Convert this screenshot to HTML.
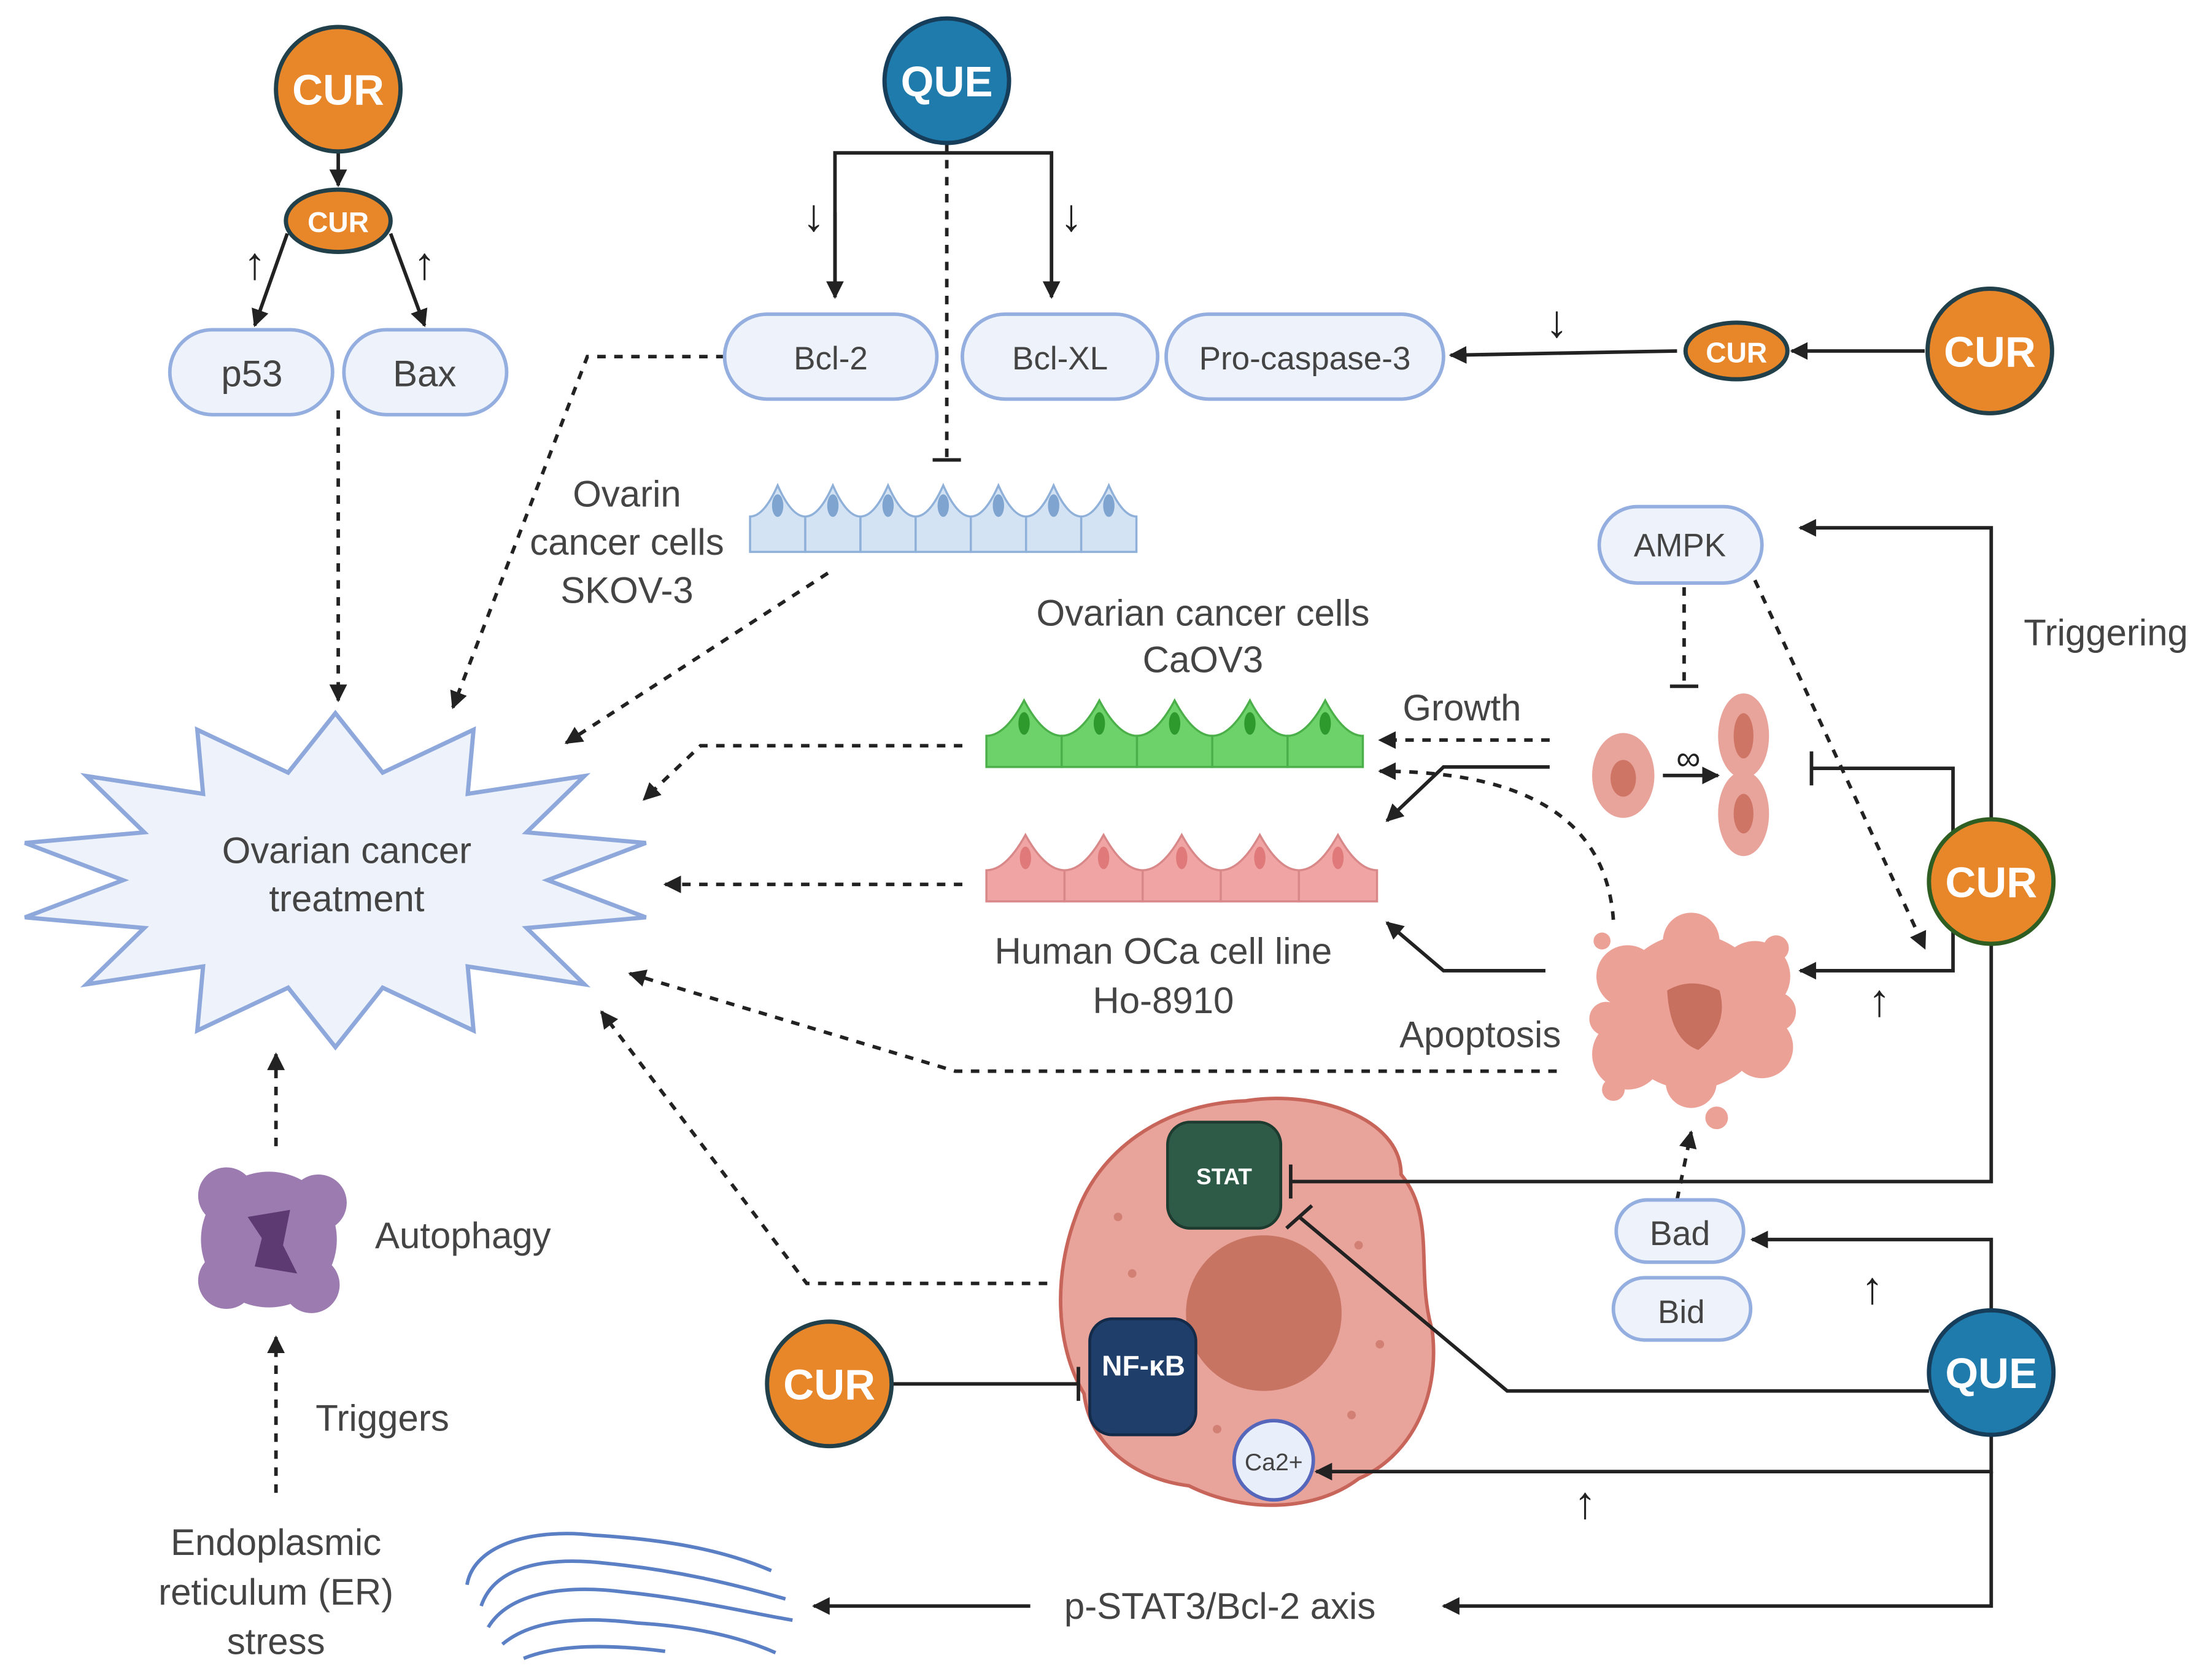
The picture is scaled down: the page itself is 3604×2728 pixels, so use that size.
<!DOCTYPE html>
<html><head><meta charset="utf-8"><style>
html,body{margin:0;padding:0;background:#fff;}
svg{display:block;}
text{font-family:"Liberation Sans",sans-serif;fill:#444;}
.l{font-size:26px;}
.w{fill:#fff;font-weight:bold;}
.ar{fill:#222;font-size:32px;}
</style></head><body>
<svg id="s" width="3604" height="2728" viewBox="0 0 1563 1183" xmlns="http://www.w3.org/2000/svg">
<defs>
<marker id="a" viewBox="0 0 10 10" refX="9" refY="5" markerWidth="5" markerHeight="5" orient="auto-start-reverse"><path d="M0,0 L10,5 L0,10 Z" fill="#222"/></marker>
</defs>
<g id="star"></g>
<text class="l" x="245" y="610" text-anchor="middle">Ovarian cancer</text>
<text class="l" x="245" y="644" text-anchor="middle">treatment</text>

<!-- big cell (drawn first so connectors lie on top) -->
<path d="M880,778 C930,770 990,790 990,830 C1015,860 1000,900 1012,940 C1018,990 995,1030 960,1045 C930,1068 880,1070 840,1050 C800,1045 770,1020 766,985 C745,950 745,900 760,860 C775,815 820,780 880,778Z" fill="#e8a39a" stroke="#c8655a" stroke-width="2.5"/>
<g fill="#d27f74"><circle cx="800" cy="900" r="3"/><circle cx="960" cy="880" r="3"/><circle cx="975" cy="950" r="3"/><circle cx="860" cy="1010" r="3"/><circle cx="790" cy="860" r="3"/><circle cx="955" cy="1000" r="3"/></g>
<circle cx="893" cy="928" r="55" fill="#c87463"/>
<rect x="825" y="793" width="80" height="75" rx="16" fill="#2e5b48" stroke="#1e3b30" stroke-width="2"/>
<text x="865" y="837" font-size="16" text-anchor="middle" class="w">STAT</text>
<rect x="770" y="932" width="75" height="82" rx="16" fill="#1f3f6a" stroke="#132a48" stroke-width="2"/>
<text x="808" y="972" font-size="20" text-anchor="middle" class="w">NF-κB</text>
<circle cx="900" cy="1032" r="28" fill="#e8eefa" stroke="#5566bb" stroke-width="2.5"/>
<text x="900" y="1039" font-size="17" text-anchor="middle">Ca2+</text>

<g stroke="#222" stroke-width="2.5" fill="none">
<line x1="239" y1="107" x2="239" y2="131" marker-end="url(#a)"/>
<line x1="203" y1="165" x2="180" y2="230" marker-end="url(#a)"/>
<line x1="276" y1="165" x2="300" y2="230" marker-end="url(#a)"/>
<polyline points="590,210 590,108 743,108 743,210" marker-end="url(#a)"/>
<line x1="590" y1="150" x2="590" y2="210" marker-end="url(#a)"/>
<line x1="1185" y1="248" x2="1025" y2="251" marker-end="url(#a)"/>
<line x1="1360" y1="248" x2="1266" y2="248" marker-end="url(#a)"/>
<polyline points="1407,579 1407,373 1272,373" marker-end="url(#a)"/>
<polyline points="1380,600 1380,543 1280,543"/>
<line x1="1280" y1="531" x2="1280" y2="555"/>
<polyline points="1380,640 1380,686 1272,686" marker-end="url(#a)"/>
<polyline points="1407,667 1407,835 912,835"/>
<line x1="912" y1="823" x2="912" y2="847"/>
<polyline points="1407,926 1407,876 1238,876" marker-end="url(#a)"/>
<polyline points="1363,983 1065,983 918,860"/>
<line x1="909" y1="868" x2="927" y2="852"/>
<polyline points="1407,1014 1407,1040 930,1040" marker-end="url(#a)"/>
<polyline points="1407,1040 1407,1135 1020,1135" marker-end="url(#a)"/>
<line x1="728" y1="1135" x2="575" y2="1135" marker-end="url(#a)"/>
<line x1="630" y1="978" x2="762" y2="978"/>
<line x1="762" y1="966" x2="762" y2="990"/>
<polyline points="1095,542 1020,542 980,580" marker-end="url(#a)"/>
<polyline points="1092,686 1020,686 980,652" marker-end="url(#a)"/>
<line x1="1175" y1="548" x2="1214" y2="548" marker-end="url(#a)"/>
</g>
<g stroke="#222" stroke-width="2.5" fill="none" stroke-dasharray="6,6">
<line x1="239" y1="290" x2="239" y2="495" marker-end="url(#a)"/>
<line x1="669" y1="101" x2="669" y2="325"/>
<polyline points="512,252 415,252 320,500" marker-end="url(#a)"/>
<line x1="585" y1="405" x2="400" y2="525" marker-end="url(#a)"/>
<polyline points="680,527 495,527 455,565" marker-end="url(#a)"/>
<line x1="680" y1="625" x2="470" y2="625" marker-end="url(#a)"/>
<line x1="1095" y1="523" x2="975" y2="523" marker-end="url(#a)"/>
<path d="M1140,650 C1135,580 1080,545 975,545" marker-end="url(#a)"/>
<line x1="1190" y1="415" x2="1190" y2="485"/>
<line x1="1240" y1="410" x2="1360" y2="670" marker-end="url(#a)"/>
<polyline points="1100,757 675,757 445,688" marker-end="url(#a)"/>
<polyline points="740,907 570,907 425,715" marker-end="url(#a)"/>
<line x1="1185" y1="848" x2="1195" y2="800" marker-end="url(#a)"/>
<line x1="195" y1="810" x2="195" y2="745" marker-end="url(#a)"/>
<line x1="195" y1="1055" x2="195" y2="945" marker-end="url(#a)"/>
</g>
<g stroke="#222" stroke-width="2.5">
<line x1="659" y1="325" x2="679" y2="325"/>
<line x1="1180" y1="485" x2="1200" y2="485"/>
</g>

<g>
<text class="ar" x="180" y="197" text-anchor="middle">↑</text>
<text class="ar" x="300" y="197" text-anchor="middle">↑</text>
<text class="ar" x="575" y="163" text-anchor="middle">↓</text>
<text class="ar" x="757" y="163" text-anchor="middle">↓</text>
<text class="ar" x="1100" y="238" text-anchor="middle">↓</text>
<text class="ar" x="1328" y="718" text-anchor="middle">↑</text>
<text class="ar" x="1323" y="921" text-anchor="middle">↑</text>
<text class="ar" x="1120" y="1073" text-anchor="middle">↑</text>
</g>

<g fill="#edf2fb" stroke="#94aee0" stroke-width="2.5">
<rect x="120" y="233" width="115" height="60" rx="30"/>
<rect x="243" y="233" width="115" height="60" rx="30"/>
<rect x="512" y="222" width="150" height="60" rx="30"/>
<rect x="680" y="222" width="138" height="60" rx="30"/>
<rect x="824" y="222" width="196" height="60" rx="30"/>
<rect x="1130" y="358" width="115" height="54" rx="27"/>
<rect x="1142" y="848" width="90" height="44" rx="22"/>
<rect x="1140" y="903" width="97" height="44" rx="22"/>
</g>
<text class="l" x="178" y="273" text-anchor="middle">p53</text>
<text class="l" x="300" y="273" text-anchor="middle">Bax</text>
<text x="587" y="261" font-size="23" text-anchor="middle">Bcl-2</text>
<text x="749" y="261" font-size="23" text-anchor="middle">Bcl-XL</text>
<text x="922" y="261" font-size="23" text-anchor="middle">Pro-caspase-3</text>
<text x="1187" y="393" font-size="23" text-anchor="middle">AMPK</text>
<text x="1187" y="880" font-size="24" text-anchor="middle">Bad</text>
<text x="1188" y="935" font-size="23" text-anchor="middle">Bid</text>

<g stroke-width="3">
<circle cx="239" cy="63" r="44" fill="#e8862a" stroke="#22404a"/>
<ellipse cx="239" cy="156" rx="37" ry="22" fill="#e8862a" stroke="#22404a"/>
<circle cx="669" cy="57" r="44" fill="#1f7bab" stroke="#163d5a"/>
<ellipse cx="1227" cy="248" rx="36" ry="20" fill="#e8862a" stroke="#22404a"/>
<circle cx="1406" cy="248" r="44" fill="#e8862a" stroke="#22404a"/>
<circle cx="1407" cy="623" r="44" fill="#e8862a" stroke="#2f5e22"/>
<circle cx="1407" cy="970" r="44" fill="#1f7bab" stroke="#163d5a"/>
<circle cx="586" cy="978" r="44" fill="#e8862a" stroke="#22404a"/>
</g>
<text class="w" x="239" y="74" font-size="30" text-anchor="middle">CUR</text>
<text class="w" x="239" y="164" font-size="20" text-anchor="middle">CUR</text>
<text class="w" x="669" y="68" font-size="30" text-anchor="middle">QUE</text>
<text class="w" x="1227" y="256" font-size="20" text-anchor="middle">CUR</text>
<text class="w" x="1406" y="259" font-size="30" text-anchor="middle">CUR</text>
<text class="w" x="1407" y="634" font-size="30" text-anchor="middle">CUR</text>
<text class="w" x="1407" y="981" font-size="30" text-anchor="middle">QUE</text>
<text class="w" x="586" y="989" font-size="30" text-anchor="middle">CUR</text>

<g id="rows"></g>

<text class="l" x="443" y="358" text-anchor="middle">Ovarin</text>
<text class="l" x="443" y="392" text-anchor="middle">cancer cells</text>
<text class="l" x="443" y="426" text-anchor="middle">SKOV-3</text>
<text class="l" x="850" y="442" text-anchor="middle">Ovarian cancer cells</text>
<text class="l" x="850" y="475" text-anchor="middle">CaOV3</text>
<text class="l" x="822" y="681" text-anchor="middle">Human OCa cell line</text>
<text class="l" x="822" y="716" text-anchor="middle">Ho-8910</text>
<text class="l" x="1033" y="509" text-anchor="middle">Growth</text>
<text class="l" x="1103" y="740" text-anchor="end">Apoptosis</text>
<text class="l" x="1488" y="456" text-anchor="middle">Triggering</text>
<text class="l" x="265" y="882">Autophagy</text>
<text class="l" x="223" y="1011">Triggers</text>
<text class="l" x="195" y="1099" text-anchor="middle">Endoplasmic</text>
<text class="l" x="195" y="1134" text-anchor="middle">reticulum (ER)</text>
<text class="l" x="195" y="1169" text-anchor="middle">stress</text>
<text class="l" x="862" y="1144" text-anchor="middle">p-STAT3/Bcl-2 axis</text>

<ellipse cx="1147" cy="548" rx="22" ry="30" fill="#e8a39a"/>
<ellipse cx="1147" cy="550" rx="9" ry="13" fill="#cf7566"/>
<ellipse cx="1232" cy="520" rx="18" ry="30" fill="#e8a39a"/>
<ellipse cx="1232" cy="575" rx="18" ry="30" fill="#e8a39a"/>
<ellipse cx="1232" cy="520" rx="7" ry="16" fill="#cf7566"/>
<ellipse cx="1232" cy="575" rx="7" ry="14" fill="#cf7566"/>
<text x="1193" y="544" font-size="24" text-anchor="middle" style="fill:#222">∞</text>

<g fill="#eca197">
<circle cx="1195" cy="715" r="55"/>
<circle cx="1150" cy="690" r="22"/><circle cx="1240" cy="690" r="25"/>
<circle cx="1150" cy="745" r="25"/><circle cx="1245" cy="740" r="22"/>
<circle cx="1195" cy="665" r="20"/><circle cx="1195" cy="765" r="18"/>
<circle cx="1135" cy="720" r="12"/><circle cx="1255" cy="715" r="14"/>
<circle cx="1140" cy="770" r="8"/><circle cx="1213" cy="790" r="8"/>
<circle cx="1132" cy="665" r="6"/><circle cx="1255" cy="670" r="9"/>
</g>
<path d="M1178,700 Q1195,690 1215,700 Q1222,725 1200,742 Q1180,735 1178,700Z" fill="#c8705f"/>

<g fill="#9b7bb0">
<circle cx="190" cy="876" r="48"/>
<circle cx="160" cy="845" r="20"/><circle cx="225" cy="850" r="20"/>
<circle cx="160" cy="905" r="20"/><circle cx="220" cy="908" r="20"/>
</g>
<path d="M175,860 L205,855 L200,880 L210,900 L180,895 L185,875Z" fill="#5e3a73"/>

<g fill="none" stroke="#5a7fc4" stroke-width="2.5">
<path d="M330,1120 C335,1090 380,1080 420,1085 C470,1088 510,1095 545,1110"/>
<path d="M340,1135 C350,1105 390,1100 430,1105 C480,1110 520,1120 555,1130"/>
<path d="M345,1150 C360,1125 400,1120 440,1125 C490,1130 530,1140 560,1145"/>
<path d="M355,1162 C375,1145 410,1142 450,1147 C500,1150 530,1160 548,1168"/>
<path d="M370,1172 C395,1162 430,1162 470,1167"/>
</g>
</svg>
<script>
(function(){
var ns="http://www.w3.org/2000/svg";
var cx=237,cy=622,n=14,pts=[];
for(var k=0;k<2*n;k++){var a=Math.PI*k/n-Math.PI/2;var out=k%2==0;
var rx=out?225:150,ry=out?118:78;pts.push((cx+rx*Math.cos(a)).toFixed(1)+","+(cy+ry*Math.sin(a)).toFixed(1));}
var p=document.createElementNS(ns,"polygon");p.setAttribute("points",pts.join(" "));
p.setAttribute("fill","#eef3fb");p.setAttribute("stroke","#8fa8dc");p.setAttribute("stroke-width","3");
document.getElementById("star").appendChild(p);
var g=document.getElementById("rows");
function row(x0,n,w,yb,h,hump,fill,stroke,nuc){
 for(var i=0;i<n;i++){var x=x0+i*w;var d="M"+x+","+yb+" L"+x+","+(yb-h)+" Q"+(x+w*0.25)+","+(yb-h)+" "+(x+w/2)+","+(yb-h-hump)+" Q"+(x+w*0.75)+","+(yb-h)+" "+(x+w)+","+(yb-h)+" L"+(x+w)+","+yb+" Z";
 var e=document.createElementNS(ns,"path");e.setAttribute("d",d);e.setAttribute("fill",fill);e.setAttribute("stroke",stroke);e.setAttribute("stroke-width","1.5");g.appendChild(e);
 var c=document.createElementNS(ns,"ellipse");c.setAttribute("cx",x+w/2);c.setAttribute("cy",yb-h-hump*0.35);c.setAttribute("rx",4);c.setAttribute("ry",8);c.setAttribute("fill",nuc);g.appendChild(c);}
}
row(530,7,39,390,25,22,"#d4e3f4","#8fb0d8","#7ea4cf");
row(697,5,53.2,542,22,25,"#6dd26a","#4cb04a","#2e9a2e");
row(697,5,55.2,637,22,25,"#f0a4a4","#d88888","#e07a7a");
})();
</script>
</body></html>
